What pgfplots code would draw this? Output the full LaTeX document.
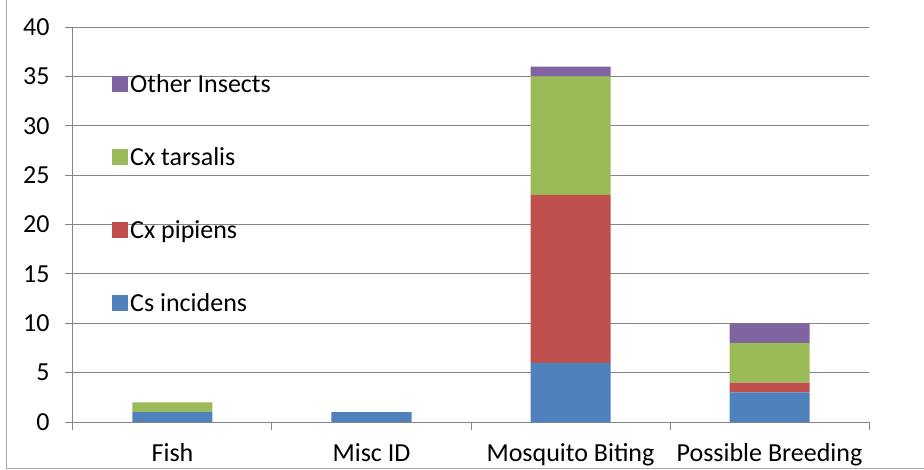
\documentclass[border=0pt]{standalone}
\usepackage{fontspec}
\setmainfont{Carlito}
\usepackage{pgfplots}
\pgfplotsset{compat=1.18}
\definecolor{cblue}{HTML}{4F81BD}
\definecolor{cred}{HTML}{C0504D}
\definecolor{cgreen}{HTML}{9BBB59}
\definecolor{cpurple}{HTML}{8064A2}
\definecolor{gridc}{HTML}{868686}
\begin{document}%
\begin{tikzpicture}[x=1pt,y=1pt,font=\fontsize{26pt}{30pt}\selectfont]
\useasboundingbox (-73,-47) rectangle (851,422);
\draw[color=gridc!70, line width=1pt] (-66.5,-46) -- (-66.5,430);
\draw[color=gridc!70, line width=1pt] (-66.5,-46) -- (870,-46);
\begin{axis}[
  at={(0,0)}, anchor=south west,
  scale only axis, width=796pt, height=395pt,
  ybar stacked, bar width=80pt,
  xmin=-0.5, xmax=3.5, ymin=0, ymax=40,
  ytick={0,5,...,40},
  xtick={0,1,2,3},
  xticklabels={Fish,Misc ID,Mosquito Biting,Possible Breeding},
  minor xtick={-0.5,0.5,1.5,2.5,3.5},
  axis x line*=bottom, axis y line*=left,
  axis line style={gridc, line width=1pt, -},
  ymajorgrids, grid style={gridc, line width=1pt},
  tick align=outside,
  major tick length=8pt, minor tick length=8pt,
  major x tick style={draw=none},
  minor x tick style={gridc, line width=1pt},
  major y tick style={gridc, line width=1pt},
  every tick label/.append style={font=\fontsize{26pt}{30pt}\selectfont},
  yticklabel style={xshift=-12pt},
  xticklabel style={yshift=-10pt},
  /pgf/number format/assume math mode=true,
  reverse legend,
  legend cell align=left,
  legend image code/.code={\fill[#1] (0pt,-8pt) rectangle (16pt,8pt);},
  legend style={draw=none, fill=none, at={(36pt,352pt)}, anchor=north west,
    font=\fontsize{26pt}{30pt}\selectfont, row sep=49.5pt,
    /tikz/every even column/.append style={column sep=10pt}},
]
\addplot[fill=cblue, draw=none] coordinates {(0,1) (1,1) (2,6) (3,3)};
\addplot[fill=cred, draw=none] coordinates {(0,0) (1,0) (2,17) (3,1)};
\addplot[fill=cgreen, draw=none] coordinates {(0,1) (1,0) (2,12) (3,4)};
\addplot[fill=cpurple, draw=none] coordinates {(0,0) (1,0) (2,1) (3,2)};
\legend{Cs incidens, Cx pipiens, Cx tarsalis, Other Insects}
\end{axis}
\end{tikzpicture}%
\end{document}
